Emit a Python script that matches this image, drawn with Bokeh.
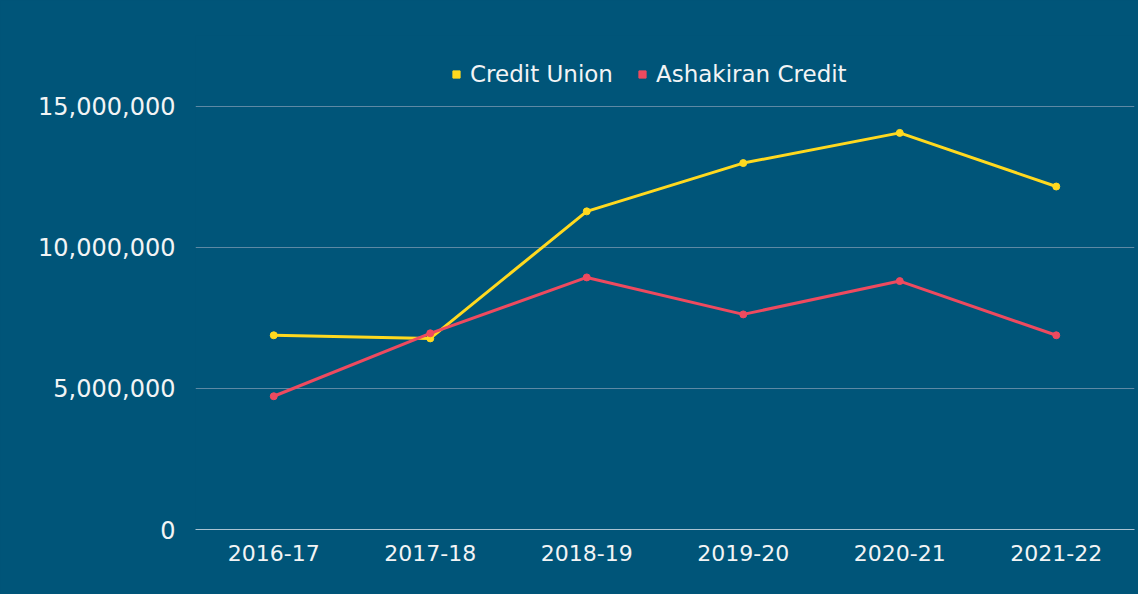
from bokeh.plotting import figure
from bokeh.models import (FactorRange, Range1d, FixedTicker, NumeralTickFormatter,
                          Legend, LegendItem, ColumnDataSource)
from bokeh.embed import file_html
from bokeh.resources import INLINE

years = ["2016-17", "2017-18", "2018-19", "2019-20", "2020-21", "2021-22"]
credit_union = [6880000, 6770000, 11270000, 12980000, 14050000, 12150000]
ashakiran = [4720000, 6950000, 8930000, 7620000, 8800000, 6880000]
y_ticks = [0, 5000000, 10000000, 15000000]

BG = "#005579"
YELLOW = "#FFD91F"
RED = "#EE4A5F"
TEXT = "#F2F4F5"
FONT = "DejaVu Sans"

p = figure(width=1138, height=594, output_backend="svg", toolbar_location=None,
           x_range=FactorRange(*years), y_range=Range1d(0, 17500000),
           background_fill_color=BG, border_fill_color=BG,
           outline_line_color=None,
           min_border_left=195, min_border_right=4, min_border_top=35,
           min_border_bottom=65,
           styles={"background-color": BG})
p.outline_line_alpha = 0

# axes
p.yaxis.ticker = FixedTicker(ticks=y_ticks)
p.yaxis.formatter = NumeralTickFormatter(format="0,0")
p.yaxis.axis_line_color = None
p.yaxis.major_tick_line_color = None
p.yaxis.minor_tick_line_color = None
p.yaxis.major_tick_out = 0
p.yaxis.major_label_standoff = 20
p.yaxis.major_label_text_font = FONT
p.yaxis.major_label_text_font_size = "24px"
p.yaxis.major_label_text_color = TEXT

p.xaxis.axis_line_color = "#a9c3d2"
p.xaxis.axis_line_width = 1
p.xaxis.major_tick_line_color = None
p.xaxis.minor_tick_line_color = None
p.xaxis.major_tick_out = 0
p.xaxis.major_label_standoff = 15
p.xaxis.major_label_text_font = FONT
p.xaxis.major_label_text_font_size = "22px"
p.xaxis.major_label_text_color = TEXT

p.xgrid.grid_line_color = None
p.ygrid.grid_line_color = "#5d89a4"
p.ygrid.grid_line_width = 1

src = ColumnDataSource(dict(x=years, cu=credit_union, ash=ashakiran))

p.line("x", "cu", source=src, line_color=YELLOW, line_width=3)
p.scatter("x", "cu", source=src, size=7, color=YELLOW)
p.line("x", "ash", source=src, line_color=RED, line_width=3)
p.scatter("x", "ash", source=src, size=7, color=RED)

# legend-only square markers
leg_cu = p.scatter(x=[years[0]], y=[float("nan")], marker="square", size=7, color=YELLOW)
leg_ash = p.scatter(x=[years[0]], y=[float("nan")], marker="square", size=7, color=RED)

legend = Legend(items=[LegendItem(label="Credit Union", renderers=[leg_cu]),
                       LegendItem(label="Ashakiran Credit", renderers=[leg_ash])],
                orientation="horizontal", location=(247, 437),
                background_fill_alpha=0, border_line_alpha=0,
                label_text_color=TEXT, label_text_font=FONT,
                label_text_font_size="23px",
                glyph_width=18, glyph_height=18, label_standoff=5,
                spacing=20, padding=5, margin=0)
p.add_layout(legend, "center")

open("out.html", "w").write(file_html(p, INLINE))
